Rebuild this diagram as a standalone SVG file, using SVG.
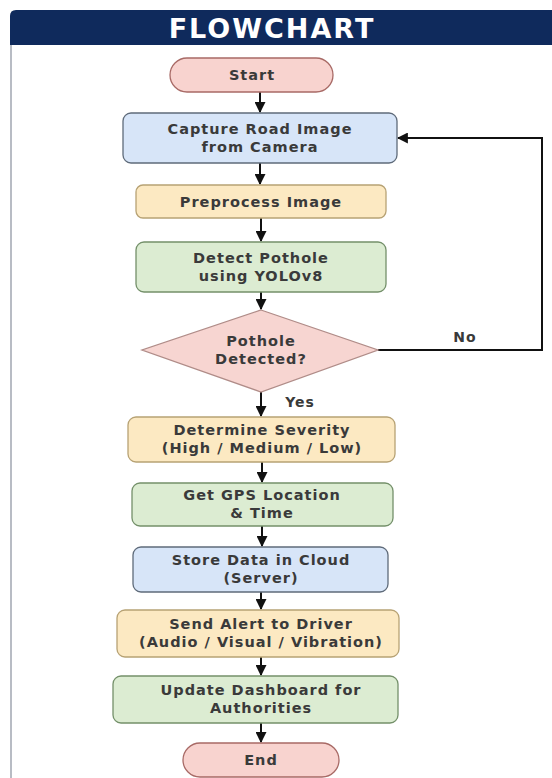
<svg xmlns="http://www.w3.org/2000/svg" width="552" height="778" viewBox="0 0 552 778">
<defs>
<marker id="ah" viewBox="0 0 10 10" refX="9" refY="5" markerWidth="11" markerHeight="11" orient="auto-start-reverse" markerUnits="userSpaceOnUse">
<path d="M0,0 L10,5 L0,10 z" fill="#111"/>
</marker>
<style>
.t{font-family:"DejaVu Sans","Liberation Sans",sans-serif;font-weight:bold;font-size:14.5px;fill:#3a3a3a;text-anchor:middle;letter-spacing:1px}
.term{fill:#f8d3cf;stroke:#a86a66;stroke-width:1.3}
.blue{fill:#d7e5f8;stroke:#5f6b7a;stroke-width:1.3}
.yel{fill:#fce9c2;stroke:#b7a274;stroke-width:1.3}
.grn{fill:#dcecd2;stroke:#74906a;stroke-width:1.3}
.dia{fill:#f7d5d1;stroke:#b08c88;stroke-width:1.3}
.ca{fill:none;stroke:#111;stroke-width:2;marker-end:url(#ah)}
</style>
</defs>
<rect width="552" height="778" fill="#ffffff"/>
<g id="frame">
<line x1="11" y1="40" x2="11" y2="778" stroke="#b8bcc4" stroke-width="2"/>
<path d="M10,16 Q10,10 16,10 L552,10 L552,45 L10,45 z" fill="#0f2a5c"/>
<text x="272" y="38" style="font-family:'DejaVu Sans','Liberation Sans',sans-serif;font-weight:bold;font-size:27px;fill:#ffffff;text-anchor:middle;letter-spacing:2px">FLOWCHART</text>
</g>
<g id="connectors">
<line class="ca" x1="260" y1="92" x2="260" y2="112"/>
<line class="ca" x1="260" y1="163" x2="260" y2="184"/>
<line class="ca" x1="261" y1="218" x2="261" y2="241"/>
<line class="ca" x1="261" y1="292" x2="261" y2="309"/>
<line class="ca" x1="261" y1="392" x2="261" y2="416"/>
<line class="ca" x1="262" y1="462" x2="262" y2="482"/>
<line class="ca" x1="262" y1="526" x2="262" y2="546"/>
<line class="ca" x1="261" y1="592" x2="261" y2="609"/>
<line class="ca" x1="261" y1="657" x2="261" y2="675"/>
<line class="ca" x1="261" y1="723" x2="261" y2="742"/>
<polyline class="ca" points="378,350 542,350 542,138 398,138"/>
<text class="t" x="300" y="407" style="font-size:14px">Yes</text>
<text class="t" x="465" y="342" style="font-size:14px">No</text>
</g>
<g id="start">
<rect class="term" x="170" y="58" width="163" height="34" rx="17"/>
<text class="t" x="252" y="80">Start</text>
</g>
<g id="capture">
<rect class="blue" x="123" y="113" width="274" height="50" rx="8"/>
<text class="t" x="260" y="134">Capture Road Image</text>
<text class="t" x="260" y="152">from Camera</text>
</g>
<g id="preprocess">
<rect class="yel" x="136" y="185" width="250" height="33" rx="7"/>
<text class="t" x="261" y="207">Preprocess Image</text>
</g>
<g id="detect">
<rect class="grn" x="136" y="242" width="250" height="50" rx="8"/>
<text class="t" x="261" y="263">Detect Pothole</text>
<text class="t" x="261" y="281">using YOLOv8</text>
</g>
<g id="decision">
<polygon class="dia" points="261,310 378,350 261,392 142,350"/>
<text class="t" x="261" y="346">Pothole</text>
<text class="t" x="261" y="364">Detected?</text>
</g>
<g id="severity">
<rect class="yel" x="128" y="417" width="267" height="45" rx="8"/>
<text class="t" x="262" y="435">Determine Severity</text>
<text class="t" x="262" y="453">(High / Medium / Low)</text>
</g>
<g id="gps">
<rect class="grn" x="132" y="483" width="261" height="43" rx="8"/>
<text class="t" x="262" y="500">Get GPS Location</text>
<text class="t" x="262" y="518">&amp; Time</text>
</g>
<g id="store">
<rect class="blue" x="133" y="547" width="255" height="45" rx="8"/>
<text class="t" x="261" y="565">Store Data in Cloud</text>
<text class="t" x="261" y="583">(Server)</text>
</g>
<g id="alert">
<rect class="yel" x="117" y="610" width="282" height="47" rx="8"/>
<text class="t" x="261" y="629">Send Alert to Driver</text>
<text class="t" x="261" y="647">(Audio / Visual / Vibration)</text>
</g>
<g id="dashboard">
<rect class="grn" x="113" y="676" width="285" height="47" rx="8"/>
<text class="t" x="261" y="695">Update Dashboard for</text>
<text class="t" x="261" y="713">Authorities</text>
</g>
<g id="end">
<rect class="term" x="183" y="743" width="156" height="34" rx="17"/>
<text class="t" x="261" y="765">End</text>
</g>
</svg>
